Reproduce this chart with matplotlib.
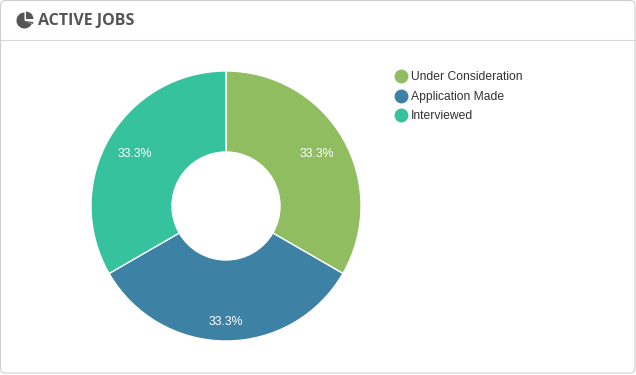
import matplotlib
matplotlib.use("Agg")
import matplotlib.pyplot as plt
from matplotlib.patches import FancyBboxPatch, Wedge
from matplotlib.lines import Line2D

categories = ["Under Consideration", "Application Made", "Interviewed"]
values = [1, 1, 1]
labels = ["33.3%", "33.3%", "33.3%"]
colors = ["#91BD61", "#3D81A5", "#37C29E"]
title = "ACTIVE JOBS"

W, H = 636, 375
fig = plt.figure(figsize=(W / 100, H / 100), dpi=100, facecolor="white")

bg = fig.add_axes([0, 0, 1, 1])
bg.set_xlim(0, W)
bg.set_ylim(H, 0)
bg.axis("off")
bg.add_patch(FancyBboxPatch((0.5, 0.5), W - 1.5, H - 2.5,
                            boxstyle="round,pad=0,rounding_size=5",
                            fc="white", ec="#CFCFCF", lw=0.8))
bg.plot([1, W - 1], [39.5, 39.5], color="#D8D8D8", lw=0.8)

# Title icon
bg.add_patch(Wedge((24.5, 20.5), 8, 25, 270, fc="#555555", ec="none"))
bg.add_patch(Wedge((26, 19), 7.4, 270, 360, fc="#555555", ec="none"))
bg.add_patch(Wedge((25.5, 21), 8, 8, 22, fc="#555555", ec="none"))
bg.text(38, 20.5, title, fontsize=11.5, fontweight="bold", family="Open Sans",
        color="#555555", va="center", ha="left")

# Donut
cx, cy, r = 226, 206, 135
ax = fig.add_axes([(cx - r) / W, 1 - (cy + r) / H, 2 * r / W, 2 * r / H])
wedges, _, autotexts = ax.pie(
    values, colors=colors, startangle=90, counterclock=False, radius=1,
    autopct="%1.1f%%", pctdistance=0.8,
    wedgeprops=dict(width=0.6, edgecolor="white", linewidth=1),
    textprops=dict(color="white", fontsize=8.8, family="Liberation Sans"),
)
label_pos = [(0.674, 0.382), (0.0, -0.861), (-0.674, 0.382)]
for t, s, p in zip(autotexts, labels, label_pos):
    t.set_text(s)
    t.set_position(p)
ax.set_xlim(-1, 1)
ax.set_ylim(-1, 1)

# Legend
handles = [Line2D([], [], marker="o", ls="none", ms=10, mfc=c, mec="none") for c in colors]
fig.legend(handles, categories, loc="upper left",
           bbox_to_anchor=(392.7 / W, 1 - 71.5 / H), frameon=False,
           prop=dict(family="Liberation Sans", size=8.7), labelcolor="#333333",
           handletextpad=0.24, labelspacing=0.6, borderpad=0, borderaxespad=0,
           handlelength=1.3)

fig.savefig("out.png", dpi=100, facecolor="white")
